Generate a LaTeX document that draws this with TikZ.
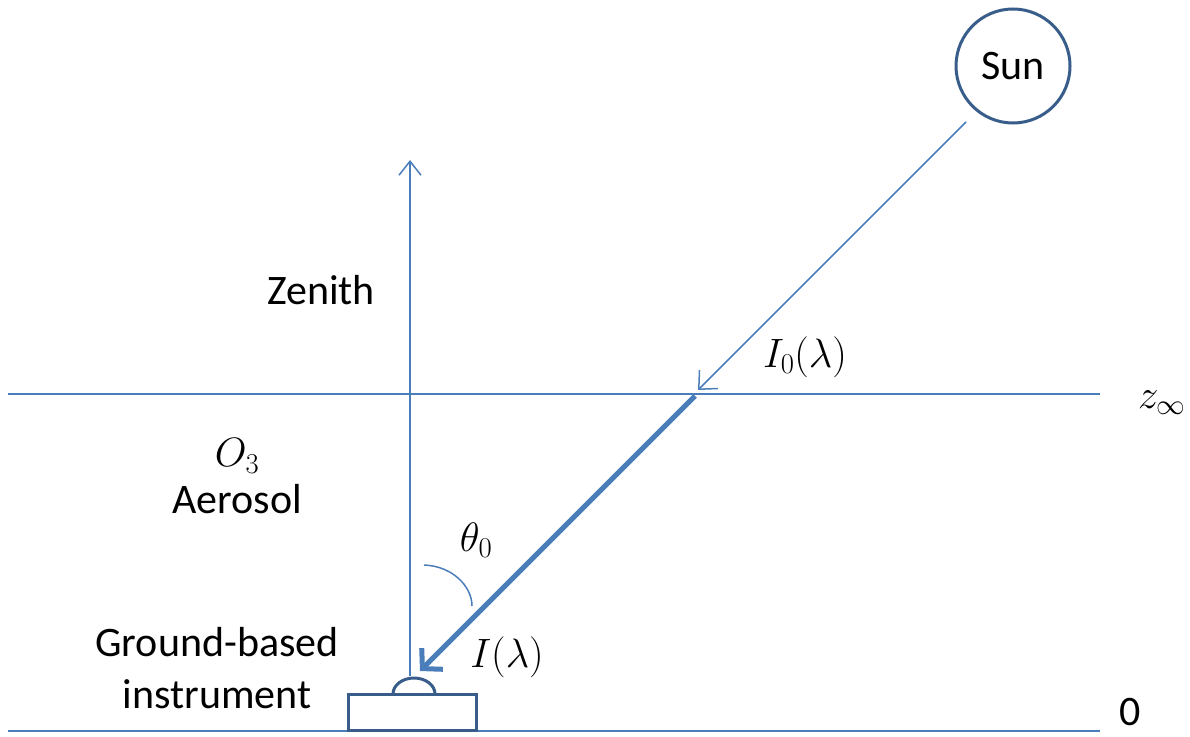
\RequirePackage{fix-cm}
\documentclass[tikz,border=0pt]{standalone}
\usepackage{fontspec}
\setmainfont{Carlito}
\usetikzlibrary{arrows.meta}
\definecolor{lineblue}{HTML}{4A7EBB}
\definecolor{darkblue}{HTML}{385D8A}
\begin{document}
\begin{tikzpicture}[x=1pt,y=-1pt,
  thinline/.style={draw=lineblue,line width=1.5pt},
  lbl/.style={font=\fontsize{42}{48}\selectfont,inner sep=0pt},
  mlbl/.style={font=\fontsize{41}{47}\selectfont,inner sep=0pt}]
\useasboundingbox (0,0) rectangle (1190,736);
% layer lines
\coordinate (zl) at (8,394);
\coordinate (zr) at (1100,394);
\coordinate (gl) at (8,731);
\coordinate (gr) at (1100,731);
\draw[thinline] (zl) -- (zr);
\draw[thinline] (gl) -- (gr);
\node[mlbl] (zinf) at (1162,403) {$z_\infty$};
\node[lbl,anchor=base] (zero) at (1130,725) {0};
% sun
\node[draw=darkblue,line width=3pt,circle,minimum size=114pt,lbl] (sun) at (1013,66) {Sun};
% instrument
\node[draw=darkblue,line width=3pt,minimum width=128pt,minimum height=36pt,inner sep=0pt] (inst) at (412,712) {};
\draw[draw=darkblue,line width=3pt] (393,694) arc[start angle=180,end angle=360,x radius=21,y radius=16];
% zenith
\coordinate (zentop) at (410,160);
\draw[thinline,-{Straight Barb[length=14pt,width=22pt,line width=1.5pt]}] (410,676) -- (zentop);
\node[lbl] (zenith) at (321,290) {Zenith};
% sun ray
\coordinate (rs) at (966,122);
\coordinate (re) at (698,390);
\draw[thinline,-{Straight Barb[length=14pt,width=26pt,line width=1.5pt]}] (rs) -- (re);
\coordinate (ts) at (695,396);
\coordinate (te) at (420,671);
\draw[draw=lineblue,line width=5pt,-{Straight Barb[length=14pt,width=30pt,line width=5pt]}] (ts) -- (te);
% angle arc
\draw[thinline] (424,565) .. controls (452,566) and (472,586) .. (472,606);
% labels
\node[mlbl] (I0) at (805,357) {$I_0(\lambda)$};
\node[mlbl] (I) at (507,657) {$I(\lambda)$};
\node[mlbl] (theta) at (476,540) {$\theta_0$};
\node[mlbl] (O3) at (237,456) {$O_3$};
\node[lbl] (aer) at (237,499) {Aerosol};
\node[lbl,align=center] (gbi) at (217,668) {Ground-based\\[4pt]instrument};
\end{tikzpicture}
\end{document}
